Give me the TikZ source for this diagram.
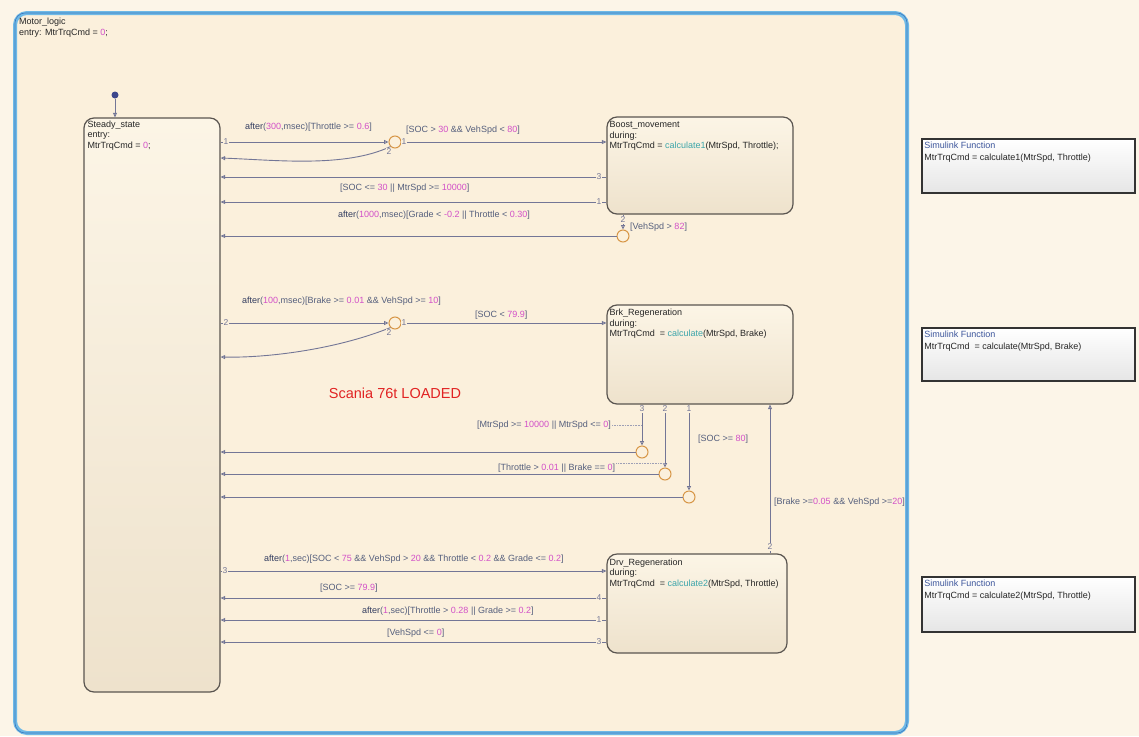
\documentclass[tikz,border=0pt]{standalone}
\usepackage{fontspec}
\setmainfont{Liberation Sans}
\usetikzlibrary{arrows.meta,calc}
\definecolor{bgcol}{RGB}{252,245,232}
\definecolor{chartbg}{RGB}{251,240,220}
\definecolor{chartblue}{RGB}{110,185,230}
\definecolor{chartdark}{RGB}{60,120,190}
\definecolor{sttop}{RGB}{252,245,230}
\definecolor{stbot}{RGB}{238,226,204}
\definecolor{stborder}{RGB}{90,85,80}
\definecolor{trcol}{RGB}{115,118,150}
\definecolor{lblcol}{RGB}{85,95,125}
\definecolor{aftcol}{RGB}{50,60,95}
\definecolor{numcol}{RGB}{210,80,200}
\definecolor{fncol}{RGB}{60,165,170}
\definecolor{junccol}{RGB}{215,150,70}
\definecolor{dotcol}{RGB}{60,70,140}
\definecolor{redtxt}{RGB}{225,35,35}
\definecolor{slhead}{RGB}{60,85,155}
\newcommand{\mynum}[1]{\textcolor{numcol}{#1}}
\newcommand{\myfn}[1]{\textcolor{fncol}{#1}}
\newcommand{\myaft}{\textcolor{aftcol}{after}}
\tikzset{
  chartbox/.style={draw=chartblue, line width=4pt, rounded corners=12pt, fill=chartbg, inner sep=0},
  stbox/.style={draw=stborder, line width=1.2pt, rounded corners=10pt, top color=sttop, bottom color=stbot, inner sep=0},
  sttext/.style={anchor=north west, align=left, inner sep=0, font=\fontsize{9}{10.5}\selectfont, text=black!85},
  junc/.style={circle, draw=junccol, line width=1pt, fill=chartbg, minimum size=12pt, inner sep=0},
  tr/.style={draw=trcol, line width=0.9pt, -{Triangle[open,length=4.5pt,width=4pt]}},
  lbl/.style={anchor=west, inner sep=0, text=lblcol, font=\fontsize{9}{10}\selectfont},
  port/.style={inner sep=0.6pt, fill=chartbg, text=trcol, font=\fontsize{8.5}{9}\selectfont},
  hint/.style={draw=trcol!70, densely dotted, line width=0.6pt},
  slbox/.style={draw=black!80, line width=1.5pt, top color=white, bottom color=black!10, inner sep=0},
  sltext/.style={anchor=north west, align=left, inner sep=0, font=\fontsize{9}{11.5}\selectfont, text=black!85},
}
\begin{document}
\begin{tikzpicture}[x=1pt,y=-1pt]
\useasboundingbox (0,0) rectangle (1139,736);
\fill[bgcol] (0,0) rectangle (1139,736);
% chart
\node[chartbox, minimum width=892pt, minimum height=720pt] (motor) at (461,373) {};
\draw[chartdark, line width=0.6pt, rounded corners=10pt] ([shift={(2pt,-2pt)}]motor.north west) rectangle ([shift={(-2pt,2pt)}]motor.south east);
\node[sttext] (motortxt) at ([shift={(6pt,-7pt)}]motor.north west) {Motor\_logic\\entry: MtrTrqCmd = \mynum{0};};
% states
\node[stbox, minimum width=136pt, minimum height=574pt] (steady) at (152,405) {};
\node[sttext] at ([shift={(4pt,-3pt)}]steady.north west) {Steady\_state\\entry:\\MtrTrqCmd = \mynum{0};};
\node[stbox, minimum width=186pt, minimum height=97pt] (boost) at (700,165.5) {};
\node[sttext] at ([shift={(3pt,-5pt)}]boost.north west) {Boost\_movement\\during:\\MtrTrqCmd = \myfn{calculate1}(MtrSpd, Throttle);};
\node[stbox, minimum width=186pt, minimum height=99pt] (brk) at (700,354.5) {};
\node[sttext] at ([shift={(3pt,-4.5pt)}]brk.north west) {Brk\_Regeneration\\during:\\MtrTrqCmd\ \ = \myfn{calculate}(MtrSpd, Brake)};
\node[stbox, minimum width=180pt, minimum height=99pt] (drv) at (697,603.5) {};
\node[sttext] at ([shift={(3pt,-5pt)}]drv.north west) {Drv\_Regeneration\\during:\\MtrTrqCmd\ \ = \myfn{calculate2}(MtrSpd, Throttle)};
% simulink functions
\node[slbox, minimum width=213pt, minimum height=54pt] (sl1) at (1028.5,166) {};
\node[sltext] at ([shift={(3pt,-4pt)}]sl1.north west) {\textcolor{slhead}{Simulink Function}\\MtrTrqCmd = calculate1(MtrSpd, Throttle)};
\node[slbox, minimum width=213pt, minimum height=53pt] (sl2) at (1028.5,354.5) {};
\node[sltext] at ([shift={(3pt,-4pt)}]sl2.north west) {\textcolor{slhead}{Simulink Function}\\MtrTrqCmd\ \ = calculate(MtrSpd, Brake)};
\node[slbox, minimum width=213pt, minimum height=55pt] (sl3) at (1028.5,604.5) {};
\node[sltext] at ([shift={(3pt,-4pt)}]sl3.north west) {\textcolor{slhead}{Simulink Function}\\MtrTrqCmd = calculate2(MtrSpd, Throttle)};
% default transition
\node[circle, fill=dotcol, minimum size=7pt, inner sep=0] (dflt) at (115,95) {};
\draw[tr] (dflt) -- (dflt |- steady.north);
% junctions
\node[junc] (j1) at (395,142) {};
\node[junc] (j2) at (623,236) {};
\node[junc] (j3) at (395,323) {};
\node[junc] (j4) at (642,452) {};
\node[junc] (j5) at (665,474) {};
\node[junc] (j6) at (689,497) {};
% top transitions
\draw[tr] (j1 -| steady.east) -- (j1.west);
\draw[tr] (j1.east) -- (j1 -| boost.west);
\draw[tr] (j1.south west) .. controls (345,168) and (275,160) .. (steady.east |- 0,158);
\draw[tr] (boost.west |- 0,177) -- (steady.east |- 0,177);
\draw[tr] (boost.west |- 0,202) -- (steady.east |- 0,202);
\draw[tr] (boost.south -| j2) -- (j2.north);
\draw[tr] (j2.west) -- (j2 -| steady.east);
\node[port] at (226,142) {1};
\node[port] at (404,142) {1};
\node[port] at (389,152) {2};
\node[port] at (599,177) {3};
\node[port] at (599,202) {1};
\node[port] at (623,220) {2};
\node[lbl] (l1) at (245,127) {\myaft(\mynum{300},msec)[Throttle >= \mynum{0.6}]};
\node[lbl] (l2) at (406,130) {[SOC > \mynum{30} \&\& VehSpd < \mynum{80}]};
\node[lbl] (l3) at (340,188) {[SOC <= \mynum{30} || MtrSpd >= \mynum{10000}]};
\node[lbl] (l4) at (338,215) {\myaft(\mynum{1000},msec)[Grade < \mynum{-0.2} || Throttle < \mynum{0.30}]};
\node[lbl] (l5) at (630,227) {[VehSpd > \mynum{82}]};
% middle transitions
\draw[tr] (j3 -| steady.east) -- (j3.west);
\draw[tr] (j3.east) -- (j3 -| brk.west);
\draw[tr] (j3.south west) .. controls (335,350) and (265,358) .. (steady.east |- 0,357);
\draw[tr] (brk.south -| j4) -- (j4.north);
\draw[tr] (j4.west) -- (j4 -| steady.east);
\draw[tr] (brk.south -| j5) -- (j5.north);
\draw[tr] (j5.west) -- (j5 -| steady.east);
\draw[tr] (brk.south -| j6) -- (j6.north);
\draw[tr] (j6.west) -- (j6 -| steady.east);
\draw[tr] (drv.north -| 770,0) -- (brk.south -| 770,0);
\node[port] at (226,323) {2};
\node[port] at (404,323) {1};
\node[port] at (389,333) {2};
\node[port] at (642,409) {3};
\node[port] at (665,409) {2};
\node[port] at (689,409) {1};
\node[port] at (770,547) {2};
\node[lbl] (l6) at (242,301) {\myaft(\mynum{100},msec)[Brake >= \mynum{0.01} \&\& VehSpd >= \mynum{10}]};
\node[lbl] (l7) at (475,315) {[SOC < \mynum{79.9}]};
\node[lbl] (l11) at (477,425) {[MtrSpd >= \mynum{10000} || MtrSpd <= \mynum{0}]};
\draw[hint] ([xshift=1pt]l11.east) -- (l11.east -| j4);
\node[lbl] (l13) at (498,468) {[Throttle > \mynum{0.01} || Brake == \mynum{0}]};
\draw[hint] ([xshift=1pt]l13.north east) -- (l13.north east -| j5);
\node[lbl] (l15) at (698,439) {[SOC >= \mynum{80}]};
\node[lbl] (l17) at (774,502) {[Brake >=\mynum{0.05} \&\& VehSpd >=\mynum{20}]};
\node[text=redtxt, font=\fontsize{14.5}{16}\selectfont, inner sep=0] (scania) at (395,393) {Scania 76t LOADED};
% bottom transitions
\draw[tr] (steady.east |- 0,571) -- (drv.west |- 0,571);
\draw[tr] (drv.west |- 0,598) -- (steady.east |- 0,598);
\draw[tr] (drv.west |- 0,620) -- (steady.east |- 0,620);
\draw[tr] (drv.west |- 0,642) -- (steady.east |- 0,642);
\node[port] at (225,571) {3};
\node[port] at (599,598) {4};
\node[port] at (599,620) {1};
\node[port] at (599,642) {3};
\node[lbl] (l18) at (264,559) {\myaft(\mynum{1},sec)[SOC < \mynum{75} \&\& VehSpd > \mynum{20} \&\& Throttle < \mynum{0.2} \&\& Grade <= \mynum{0.2}]};
\node[lbl] (l19) at (320,588) {[SOC >= \mynum{79.9}]};
\node[lbl] (l20) at (362,611) {\myaft(\mynum{1},sec)[Throttle > \mynum{0.28} || Grade >= \mynum{0.2}]};
\node[lbl] (l21) at (387,633) {[VehSpd <= \mynum{0}]};
\end{tikzpicture}
\end{document}
